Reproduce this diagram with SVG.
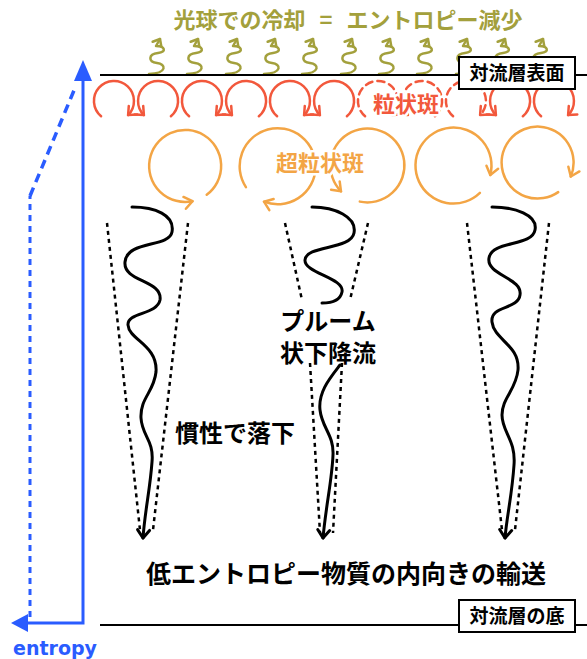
<svg xmlns="http://www.w3.org/2000/svg" width="587" height="659" viewBox="0 0 587 659">
  <style>
    .jp { font-family: "Noto Sans CJK JP", "Noto Sans", sans-serif; font-weight: bold; }
    .halo { paint-order: stroke; stroke: #fff; stroke-width: 5; stroke-linejoin: round; }
    .olive { stroke: #a3a03c; fill: none; stroke-width: 2.5; stroke-linecap: round; stroke-linejoin: round; }
    .red { stroke: #f2583c; fill: none; stroke-width: 2.5; stroke-linecap: round; }
    .orange { stroke: #f3a545; fill: none; stroke-width: 2.5; stroke-linecap: round; }
    .plume { stroke: #000; fill: none; stroke-width: 3; stroke-linecap: round; }
    .funnel { stroke: #000; fill: none; stroke-width: 2.5; stroke-dasharray: 4 4; }
    .layer { stroke: #000; stroke-width: 2; }
    .box { fill: #fff; stroke: #000; stroke-width: 2; }
  </style>
  <defs>
    <marker id="ahOlive" markerUnits="userSpaceOnUse" markerWidth="20" markerHeight="20" viewBox="-10 -10 20 20" refX="0" refY="0" orient="auto">
      <path d="M-6,-5 L0,0 L-6,5" fill="none" stroke="#a3a03c" stroke-width="2.5" stroke-linecap="round" stroke-linejoin="round"/>
    </marker>
    <marker id="ahRed" markerUnits="userSpaceOnUse" markerWidth="20" markerHeight="20" viewBox="-10 -10 20 20" refX="0" refY="0" orient="auto">
      <path d="M-7,-6 L0,0 L-7,6" fill="none" stroke="#f2583c" stroke-width="2.5" stroke-linecap="round" stroke-linejoin="round"/>
    </marker>
    <marker id="ahOrange" markerUnits="userSpaceOnUse" markerWidth="20" markerHeight="20" viewBox="-10 -10 20 20" refX="0" refY="0" orient="auto">
      <path d="M-8,-6 L0,0 L-8,6" fill="none" stroke="#f3a545" stroke-width="2.5" stroke-linecap="round" stroke-linejoin="round"/>
    </marker>
    <marker id="ahBlack" markerUnits="userSpaceOnUse" markerWidth="20" markerHeight="20" viewBox="-10 -10 20 20" refX="0" refY="0" orient="auto">
      <path d="M-8,-6 L0,0 L-8,6" fill="none" stroke="#000" stroke-width="3" stroke-linecap="round" stroke-linejoin="round"/>
    </marker>
    <!-- one rising heat squiggle, tip at (0,0) -->
    <path id="squiggle" d="M-11,36 C8,35 6,26 -3,25 C-12,24 -12,16 -2,15 C7,14 5,8 -4,8 L0,1" class="olive" marker-end="url(#ahOlive)"/>
  </defs>

  <rect width="587" height="659" fill="#fff"/>

  <!-- title -->
  <text id="title" class="jp" x="348" y="28" font-size="22" word-spacing="9" fill="#a3a03c" text-anchor="middle">光球での冷却 = エントロピー減少</text>

  <!-- photospheric cooling squiggles -->
  <g id="cooling">
    <use href="#squiggle" x="160" y="38"/>
    <use href="#squiggle" x="198" y="38"/>
    <use href="#squiggle" x="237" y="38"/>
    <use href="#squiggle" x="275" y="38"/>
    <use href="#squiggle" x="313" y="38"/>
    <use href="#squiggle" x="352" y="38"/>
    <use href="#squiggle" x="390" y="38"/>
    <use href="#squiggle" x="428" y="38"/>
    <use href="#squiggle" x="467" y="38"/>
    <use href="#squiggle" x="505" y="38"/>
    <use href="#squiggle" x="543" y="38"/>
  </g>

  <!-- granulation cells: alternating clockwise / counter-clockwise -->
  <g id="granules">
    <path class="red" d="M101.1,116.3 A20,20 0 1 1 128.1,115.1" marker-end="url(#ahRed)"/>
    <path class="red" d="M170.9,116.3 A20,20 0 1 0 143.9,115.1" marker-end="url(#ahRed)"/>
    <path class="red" d="M189.1,116.3 A20,20 0 1 1 216.1,115.1" marker-end="url(#ahRed)"/>
    <path class="red" d="M258.9,116.3 A20,20 0 1 0 231.9,115.1" marker-end="url(#ahRed)"/>
    <path class="red" d="M277.1,116.3 A20,20 0 1 1 304.1,115.1" marker-end="url(#ahRed)"/>
    <path class="red" d="M346.9,116.3 A20,20 0 1 0 319.9,115.1" marker-end="url(#ahRed)"/>
    <path class="red" d="M365.1,116.3 A20,20 0 1 1 392.1,115.1" stroke-dasharray="7 5" marker-end="url(#ahRed)"/>
    <path class="red" d="M434.9,116.3 A20,20 0 1 0 407.9,115.1" stroke-dasharray="7 5" marker-end="url(#ahRed)"/>
    <path class="red" d="M453.1,116.3 A20,20 0 1 1 480.1,115.1" stroke-dasharray="7 5" marker-end="url(#ahRed)"/>
    <path class="red" d="M522.9,116.3 A20,20 0 1 0 495.9,115.1" marker-end="url(#ahRed)"/>
    <path class="red" d="M541.1,116.3 A20,20 0 1 1 568.1,115.1" marker-end="url(#ahRed)"/>
    <text class="jp halo" x="406" y="112" font-size="22" fill="#f2583c" text-anchor="middle">粒状斑</text>
  </g>

  <!-- supergranulation cells -->
  <g id="supergranules">
    <path class="orange" d="M206.7,194.8 A36,36 0 1 0 192.5,201.2" marker-end="url(#ahOrange)"/>
    <path class="orange" d="M245.9,187.1 A38,38 0 1 1 264.0,201.7" marker-end="url(#ahOrange)"/>
    <path class="orange" d="M359.8,201.6 A37,37 0 1 0 341.0,191.3" marker-end="url(#ahOrange)"/>
    <path class="orange" d="M479.9,192.9 A38,38 0 1 1 490.3,175.0" marker-end="url(#ahOrange)"/>
    <path class="orange" d="M558.2,192.1 A36,36 0 1 1 570.8,176.5" marker-end="url(#ahOrange)"/>
    <text class="jp halo" x="320" y="171" font-size="22" fill="#f3a545" text-anchor="middle">超粒状斑</text>
  </g>

  <!-- downflow plumes -->
  <g id="plume-left">
    <path class="funnel" d="M107,223 L140,530"/>
    <path class="funnel" d="M188,223 L153,530"/>
    <path class="plume" d="M132,207 C155,207 175,215 172,232 C169,248 127,240 125,262 C123,282 163,280 160,300 C157,315 127,312 128,325 C129,340 158,345 156,372 C154,392 140,398 141,418 C142,436 154,440 152,462 C150,490 145,510 143,538" marker-end="url(#ahBlack)"/>
  </g>
  <g id="plume-middle">
    <path class="funnel" d="M285,223 L302,300"/>
    <path class="funnel" d="M310,363 L320,533"/>
    <path class="funnel" d="M368,223 L350,300"/>
    <path class="funnel" d="M342,363 L333,533"/>
    <path class="plume" d="M312,207 C335,207 357,217 354,233 C351,250 306,245 305,260 C304,273 345,278 342,292 C340,302 330,303 322,303"/>
    <path class="plume" d="M340,365 C330,378 318,392 320,410 C322,428 334,435 333,455 C332,480 326,505 323,538" marker-end="url(#ahBlack)"/>
  </g>
  <g id="plume-right">
    <path class="funnel" d="M467,223 L502,530"/>
    <path class="funnel" d="M549,223 L515,530"/>
    <path class="plume" d="M492,207 C515,207 538,215 535,230 C532,247 492,240 489,258 C486,275 523,278 520,295 C518,310 490,305 492,322 C494,340 520,345 518,370 C516,390 502,398 502,415 C502,432 516,440 514,465 C512,495 507,515 505,538" marker-end="url(#ahBlack)"/>
  </g>

  <text id="plume-label-1" class="jp" x="328" y="330" font-size="24" fill="#000" text-anchor="middle">プルーム</text>
  <text id="plume-label-2" class="jp" x="328" y="362" font-size="24" fill="#000" text-anchor="middle">状下降流</text>
  <text id="inertia-label" class="jp" x="235" y="442" font-size="24" fill="#000" text-anchor="middle">慣性で落下</text>
  <text id="transport-label" class="jp" x="346" y="583" font-size="25" fill="#000" text-anchor="middle">低エントロピー物質の内向きの輸送</text>

  <!-- layer boundaries -->
  <g id="surface">
    <line class="layer" x1="100" y1="75" x2="587" y2="75"/>
    <rect class="box" x="459" y="57" width="116" height="32"/>
    <text class="jp" x="517" y="80" font-size="19" fill="#000" text-anchor="middle">対流層表面</text>
  </g>
  <g id="base">
    <line class="layer" x1="100" y1="625" x2="587" y2="625"/>
    <rect class="box" x="459" y="600" width="116" height="32"/>
    <text class="jp" x="517" y="623" font-size="19" fill="#000" text-anchor="middle">対流層の底</text>
  </g>

  <!-- entropy profile -->
  <g id="entropy">
    <polyline points="83,80 83,623 26,623" fill="none" stroke="#2a5cff" stroke-width="3"/>
    <polygon points="83,60 74,81 92,81" fill="#2a5cff"/>
    <polygon points="11,623 28,614 28,632" fill="#2a5cff"/>
    <path d="M30,617 L30,196" fill="none" stroke="#2a5cff" stroke-width="3" stroke-dasharray="6 5"/>
    <path d="M30,196 L75,88" fill="none" stroke="#2a5cff" stroke-width="3.5" stroke-dasharray="9 6"/>
    <text x="55" y="655" font-family="DejaVu Sans" font-weight="bold" font-size="19" fill="#2a5cff" text-anchor="middle">entropy</text>
  </g>
</svg>
